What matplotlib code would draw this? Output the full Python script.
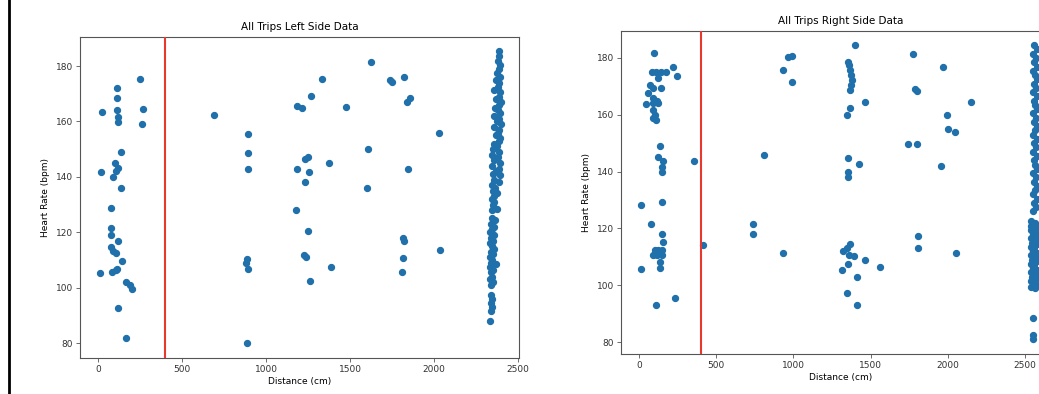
import matplotlib
matplotlib.use("Agg")
import matplotlib.pyplot as plt
from matplotlib.lines import Line2D

# left side trips: distance (cm) and heart rate (bpm)
leftX = [250, 115, 115, 22, 115, 117, 119, 266, 260, 692, 895, 895, 895,
         137, 101, 117, 16, 91, 107, 139, 77, 77, 78, 121, 75, 91, 107, 141,
         12, 85, 107, 115, 167, 190, 204, 121, 165, 885, 880, 895, 889,
         1625, 1331, 1738, 1748, 1823, 1266, 1183, 1212, 1476, 1837, 1857,
         2032, 1605, 1232, 1252, 1377, 1183, 1256, 1847, 1232, 1603, 1177,
         1248, 1813, 1823, 2036, 1228, 1240, 1813, 1387, 1807, 1262]
leftY = [175.2, 172.2, 168.3, 163.3, 164.1, 161.5, 159.9, 164.4, 159.1, 162.4,
         155.5, 148.7, 142.8, 148.8, 145.1, 143.3, 141.8, 140.0, 142.0, 135.8,
         128.9, 121.4, 118.9, 117.0, 114.8, 113.3, 112.6, 109.7, 105.2, 105.5,
         106.4, 106.6, 102.1, 100.9, 99.5, 92.5, 81.7, 110.2, 108.8, 106.6, 80.0,
         181.3, 175.2, 174.9, 174.3, 176.1, 169.2, 165.6, 165.0, 165.1, 167.1,
         168.3, 155.9, 149.9, 146.3, 147.0, 145.1, 142.8, 141.8, 142.8, 138.2,
         135.8, 127.9, 120.5, 117.8, 117.0, 113.6, 111.8, 111.0, 110.6, 107.5,
         105.5, 102.5]

# end-of-trip column on the left side
leftEndX = [2385, 2390, 2380, 2395, 2385, 2375, 2395, 2370, 2390, 2380, 2360,
            2395, 2385, 2370, 2400, 2390, 2365, 2380, 2395, 2360, 2385, 2375,
            2400, 2355, 2390, 2380, 2370, 2395, 2385, 2360, 2375, 2350, 2390,
            2345, 2380, 2360, 2395, 2345, 2385, 2370, 2350, 2395,
            2355, 2385, 2345, 2365, 2350, 2375, 2355, 2345, 2360, 2350, 2375, 2345,
            2345, 2365, 2340, 2355, 2345, 2335, 2355, 2340, 2350, 2335, 2345,
            2355, 2340, 2350, 2335, 2345, 2340, 2370, 2335, 2350, 2340, 2345,
            2335, 2350, 2340,
            2340, 2345, 2340, 2345, 2340, 2335]
leftEndY = [185.5, 183.5, 182, 180.5, 179, 177.5, 176, 175, 174, 172.5, 171.5,
            170.5, 169, 168, 167, 166, 165, 164, 163, 162, 161, 160,
            159, 158, 157, 156, 155, 154, 153, 152, 151, 150, 149,
            148, 147, 146, 145, 144, 143, 142, 141, 140.5,
            139, 138, 137, 136, 135, 134, 133, 132, 131, 130, 128.5, 128,
            125, 124.5, 123, 122, 121, 120, 119, 118, 117, 116, 115,
            114, 113, 112, 111, 110, 109, 108.5, 107.5, 106.5, 105.5, 104,
            103, 102, 101,
            97.5, 96, 94.5, 93, 91.5, 88]

# right side trips
rightX = [99, 222, 244, 82, 111, 143, 176, 120, 71, 92, 143, 60, 92, 118, 45,
          92, 125, 92, 105, 92, 110, 136, 125, 157, 147, 147, 356, 13, 151,
          76, 151, 417, 157, 100, 125, 150, 92, 118, 150, 133, 133, 13, 233,
          110, 740, 740, 810, 935, 967, 989, 935, 993,
          1399, 1356, 1362, 1368, 1372, 1378, 1375, 1366, 1464, 1367, 1345,
          1356, 1425, 1352, 1352, 1367, 1345, 1318, 1362, 1393, 1464, 1356,
          1313, 1560, 1410, 1350, 1410,
          1773, 1799, 1790, 1744, 1799, 1805, 1805, 1967, 2148, 1997, 2003,
          2047, 1956, 2053]
rightY = [181.7, 176.7, 173.8, 175.2, 175.2, 175.0, 175.2, 172.8, 170.5, 169.5,
          169.5, 167.6, 166.0, 165.0, 163.8, 164.3, 164.3, 161.7, 160.0, 159.0,
          158.0, 149.0, 145.0, 143.8, 141.7, 140.0, 143.8, 128.1, 129.2, 121.5,
          118.0, 114.2, 115.3, 112.4, 112.4, 112.4, 110.5, 110.5, 110.5, 108.3,
          106.0, 105.6, 95.4, 93.0, 121.5, 118.0, 145.8, 111.2, 180.5, 180.8,
          175.8, 171.4,
          184.6, 178.7, 177.5, 175.8, 174.0, 172.3, 170.5, 168.7, 164.6, 162.5,
          159.9, 144.9, 142.6, 140.0, 138.2, 114.7, 113.0, 112.0, 110.8, 110.2,
          108.9, 107.4, 105.4, 106.3, 102.8, 97.4, 93.0,
          181.4, 168.5, 169.0, 149.7, 149.7, 117.3, 113.2, 176.7, 164.6, 159.9,
          154.9, 153.8, 142.0, 111.2]

# end-of-trip column on the right side
rightEndX = [2560, 2575, 2555, 2570, 2560, 2580, 2555, 2565, 2575, 2560,
             2570, 2555, 2580, 2560, 2565, 2575, 2555, 2570, 2560, 2580,
             2565, 2555, 2575, 2560, 2570, 2555, 2580, 2560, 2565, 2575,
             2555, 2570, 2560, 2580, 2565, 2555, 2575, 2560, 2570, 2555,
             2540, 2565, 2545, 2580, 2540, 2560, 2550, 2575, 2540, 2565,
             2545, 2580, 2540, 2560, 2550, 2575, 2540, 2565, 2545, 2580,
             2540, 2560, 2550, 2575, 2540, 2565, 2545, 2580, 2540, 2560,
             2550, 2575, 2540, 2565, 2545, 2580, 2540, 2560, 2550, 2575,
             2555, 2555, 2555]
rightEndY = [184.5, 183, 181.5, 180, 178.5, 177, 175.5, 174, 172.5, 171,
             169.5, 168, 166.5, 165, 163.5, 162, 160.5, 159, 157.5, 156,
             154.5, 153, 151.5, 150, 148.5, 147, 145.5, 144, 142.5, 141,
             139.5, 138, 136.5, 135, 133.5, 132, 130.5, 129, 127.5, 126,
             122.5, 122, 121, 120.5, 119.5, 119, 118, 117.5, 116.5, 116,
             115, 114.5, 113.5, 113, 112, 111.5, 110.5, 110, 109, 108.5,
             107.5, 107, 106, 105.5, 104.5, 104, 103, 102.5, 101.5, 101,
             100.5, 100, 99.5, 99, 102, 118, 121, 109, 112, 105,
             88.5, 82.5, 81]

dotColor = '#1f70ab'

fig = plt.figure(figsize=(10.39, 3.94), dpi=100)

ax1 = fig.add_axes([0.0770, 0.0914, 0.4225, 0.8147])
ax1.scatter(leftX, leftY, s=18, color=dotColor, zorder=2)
ax1.scatter(leftEndX, leftEndY, s=18, color=dotColor, zorder=2)
ax1.axvline(x=400, color='#e8392f', linewidth=1.5, zorder=3)
ax1.set_xlim(-107, 2506)
ax1.set_ylim(74.6, 190.5)
ax1.set_title("All Trips Left Side Data", fontsize=7.5, pad=5)
ax1.set_xlabel("Distance (cm)", fontsize=6.5, labelpad=2)
ax1.set_ylabel("Heart Rate (bpm)", fontsize=6.5, labelpad=4)

ax2 = fig.add_axes([0.5977, 0.1015, 0.4225, 0.8198])
ax2.scatter(rightX, rightY, s=18, color=dotColor, zorder=2)
ax2.scatter(rightEndX, rightEndY, s=18, color=dotColor, zorder=2)
ax2.axvline(x=400, color='#e8392f', linewidth=1.5, zorder=3)
ax2.set_xlim(-117, 2727)
ax2.set_ylim(75.8, 189.5)
ax2.set_title("All Trips Right Side Data", fontsize=7.5, pad=5)
ax2.set_xlabel("Distance (cm)", fontsize=6.5, labelpad=2)
ax2.set_ylabel("Heart Rate (bpm)", fontsize=6.5, labelpad=4)

for ax in (ax1, ax2):
    ax.set_xticks([0, 500, 1000, 1500, 2000, 2500])
    ax.set_yticks([80, 100, 120, 140, 160, 180])
    ax.tick_params(labelsize=6.5, length=3, width=0.6, color='#555555',
                   labelcolor='#333333', pad=2)
    for sp in ax.spines.values():
        sp.set_color('#555555')
        sp.set_linewidth(0.8)

# black frame edge on the left of the screenshot
fig.add_artist(Line2D([0.0087, 0.0087], [0, 1], color='black', linewidth=2))

fig.savefig("out.png", dpi=100)
